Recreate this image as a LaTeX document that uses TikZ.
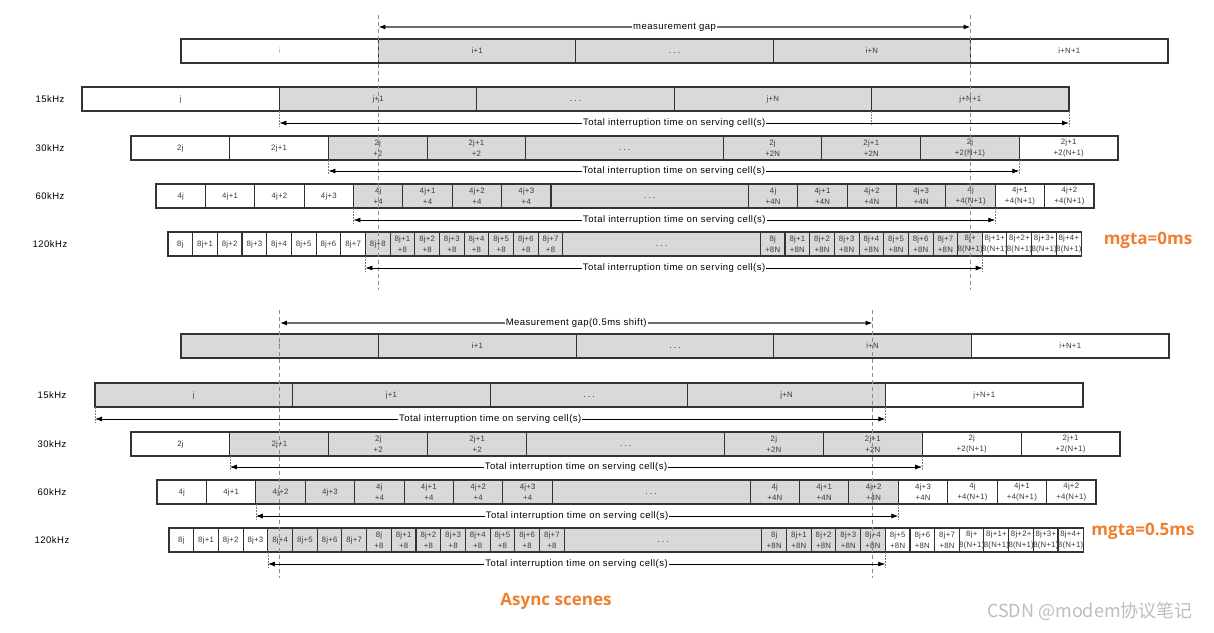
\documentclass[tikz,border=0pt]{standalone}
\usepackage{fontspec}
\setmainfont{Liberation Sans}
\usetikzlibrary{arrows.meta}
\newfontfamily\cellf[LetterSpace=3]{Liberation Sans}
\newfontfamily\lblf[LetterSpace=5]{Liberation Sans}
\newfontfamily\orf{Open Sans}
\newfontfamily\cjkf{Noto Sans CJK SC}
\definecolor{cg}{HTML}{D9D9D9}
\definecolor{bd}{HTML}{333333}
\definecolor{tx}{HTML}{3A3A3A}
\definecolor{dg}{HTML}{8C8C8C}
\definecolor{og}{HTML}{F07F30}
\definecolor{io}{HTML}{E8A050}
\definecolor{wm}{HTML}{BDBDBD}
\definecolor{gl}{HTML}{6E6E6E}
\newcommand\cellfont{\cellf\fontsize{7.8}{11}\selectfont}
\newcommand\lblfont{\lblf\fontsize{9.5}{11}\selectfont}
\newcommand\ofontsz{\orf\bfseries\fontsize{17}{20}\selectfont}
\newcommand\dd{\fontsize{9}{9}\selectfont .\hspace{2pt}.\hspace{2pt}.\vphantom{2j}}
\newcommand\cellrow[5]{%
  \xdef\curx{#3}%
  \foreach \w/\f/\t [count=\k] in {#5} {%
    \pgfmathsetmacro\cw{\w*#4}%
    \pgfmathsetmacro\cx{\curx+\cw/2}%
    \node[cell,fill=\f,minimum width=\cw pt] (#1-\k) at (\cx,#2+12) {\t};%
    \pgfmathsetmacro\nx{\curx+\cw}%
    \xdef\curx{\nx}%
  }%
}
\tikzset{
  cell/.style={draw=bd, line width=1.1pt, minimum height=24pt, inner sep=0pt, outer sep=0pt, align=center, text=tx, font=\cellfont},
  rlab/.style={font=\lblfont, text=black},
  guide/.style={draw=dg, line width=1pt, dash pattern=on 4pt off 3pt},
  tickl/.style={draw=gray, line width=0.5pt, dash pattern=on 2pt off 1pt},
  tia/.style={draw=black, line width=0.8pt, {Latex[length=7pt,width=5pt]}-{Latex[length=7pt,width=5pt]}},
  gapa/.style={draw=gl, line width=1.3pt, {Latex[length=7pt,width=5pt,color=black]}-{Latex[length=7pt,width=5pt,color=black]}},
  albl/.style={fill=white, inner sep=1pt, font=\lblfont, text=black},
  olab/.style={font=\ofontsz, text=og},
}
\begin{document}
\begin{tikzpicture}[x=1pt,y=-1pt]
\fill[white] (0,0) rectangle (1214,632);
\useasboundingbox (0,0) rectangle (1214,632);

% ---------------- top section ----------------
\cellrow{a0}{39}{181}{197.4}{1/white/{\textcolor{io}{i}},1/cg/i+1,1/cg/\dd,1/cg/i+N,1/white/i+N+1}
\cellrow{a1}{87}{82}{197.4}{1/white/j,1/cg/j+1,1/cg/\dd,1/cg/j+N,1/cg/j+N+1}
\cellrow{a2}{136}{131}{98.7}{1/white/2j,1/white/2j+1,1/cg/2j\\+2,1/cg/2j+1\\+2,2/cg/\dd,1/cg/2j\\+2N,1/cg/2j+1\\+2N,1/cg/2j\\+2(N+1),1/white/2j+1\\+2(N+1)}
\cellrow{a3}{184}{156}{49.37}{1/white/4j,1/white/4j+1,1/white/4j+2,1/white/4j+3,1/cg/4j\\+4,1/cg/4j+1\\+4,1/cg/4j+2\\+4,1/cg/4j+3\\+4,4/cg/\dd,1/cg/4j\\+4N,1/cg/4j+1\\+4N,1/cg/4j+2\\+4N,1/cg/4j+3\\+4N,1/cg/4j\\+4(N+1),1/white/4j+1\\+4(N+1),1/white/4j+2\\+4(N+1)}
\cellrow{a4}{232}{168}{24.68}{1/white/8j,1/white/8j+1,1/white/8j+2,1/white/8j+3,1/white/8j+4,1/white/8j+5,1/white/8j+6,1/white/8j+7,1/cg/8j+8,1/cg/8j+1\\+8,1/cg/8j+2\\+8,1/cg/8j+3\\+8,1/cg/8j+4\\+8,1/cg/8j+5\\+8,1/cg/8j+6\\+8,1/cg/8j+7\\+8,8/cg/\dd,1/cg/8j\\+8N,1/cg/8j+1\\+8N,1/cg/8j+2\\+8N,1/cg/8j+3\\+8N,1/cg/8j+4\\+8N,1/cg/8j+5\\+8N,1/cg/8j+6\\+8N,1/cg/8j+7\\+8N,1/cg/8j+\\8(N+1),1/white/8j+1+\\8(N+1),1/white/8j+2+\\8(N+1),1/white/8j+3+\\8(N+1),1/white/8j+4+\\8(N+1)}

\node[rlab] (la1) at (50,99) {15kHz};
\node[rlab] (la2) at (50,148) {30kHz};
\node[rlab] (la3) at (50,196) {60kHz};
\node[rlab] (la4) at (50,244) {120kHz};

\coordinate (ytA) at (0,15);
\coordinate (ybA) at (0,290);
\draw[guide] (a0-2.west |- ytA) -- (a0-2.west |- ybA);
\draw[guide] (a0-5.west |- ytA) -- (a0-5.west |- ybA);

\draw[tickl] (a1-2.south west) -- ([yshift=-16pt]a1-2.south west);
\draw[tickl] (a1-5.south east) -- ([yshift=-16pt]a1-5.south east);
\draw[tickl] (a1-5.south west) -- ([yshift=-14pt]a1-5.south west);
\draw[tickl] (a2-3.south west) -- ([yshift=-15pt]a2-3.south west);
\draw[tickl] (a2-8.south east) -- ([yshift=-15pt]a2-8.south east);
\draw[tickl] (a3-5.south west) -- ([yshift=-16pt]a3-5.south west);
\draw[tickl] (a3-14.south east) -- ([yshift=-16pt]a3-14.south east);
\draw[tickl] (a4-9.south west) -- ([yshift=-16pt]a4-9.south west);
\draw[tickl] (a4-26.south east) -- ([yshift=-16pt]a4-26.south east);

\draw[gapa] ([yshift=12pt]a0-2.north west) -- node[albl] (ga) {measurement gap} ([yshift=12pt]a0-5.north west);
\draw[tia] ([yshift=-12pt]a1-2.south west) -- node[albl] (ta1) {Total interruption time on serving cell(s)} ([yshift=-12pt]a1-5.south east);
\draw[tia] ([yshift=-11pt]a2-3.south west) -- node[albl] (ta2) {Total interruption time on serving cell(s)} ([yshift=-11pt]a2-8.south east);
\draw[tia] ([yshift=-12pt]a3-5.south west) -- node[albl] (ta3) {Total interruption time on serving cell(s)} ([yshift=-12pt]a3-14.south east);
\draw[tia] ([yshift=-12pt]a4-9.south west) -- node[albl] (ta4) {Total interruption time on serving cell(s)} ([yshift=-12pt]a4-26.south east);

\node[olab] (m0) at (1148,240) {mgta=0ms};

% ---------------- bottom section ----------------
\cellrow{b0}{334}{181}{197.6}{1/cg/i,1/cg/i+1,1/cg/\dd,1/cg/i+N,1/white/i+N+1}
\cellrow{b1}{383}{95}{197.6}{1/cg/j,1/cg/j+1,1/cg/\dd,1/cg/j+N,1/white/j+N+1}
\cellrow{b2}{432}{131}{98.9}{1/white/2j,1/cg/2j+1,1/cg/2j\\+2,1/cg/2j+1\\+2,2/cg/\dd,1/cg/2j\\+2N,1/cg/2j+1\\+2N,1/white/2j\\+2(N+1),1/white/2j+1\\+2(N+1)}
\cellrow{b3}{480}{157}{49.42}{1/white/4j,1/white/4j+1,1/cg/4j+2,1/cg/4j+3,1/cg/4j\\+4,1/cg/4j+1\\+4,1/cg/4j+2\\+4,1/cg/4j+3\\+4,4/cg/\dd,1/cg/4j\\+4N,1/cg/4j+1\\+4N,1/cg/4j+2\\+4N,1/white/4j+3\\+4N,1/white/4j\\+4(N+1),1/white/4j+1\\+4(N+1),1/white/4j+2\\+4(N+1)}
\cellrow{b4}{528}{169}{24.7}{1/white/8j,1/white/8j+1,1/white/8j+2,1/white/8j+3,1/cg/8j+4,1/cg/8j+5,1/cg/8j+6,1/cg/8j+7,1/cg/8j\\+8,1/cg/8j+1\\+8,1/cg/8j+2\\+8,1/cg/8j+3\\+8,1/cg/8j+4\\+8,1/cg/8j+5\\+8,1/cg/8j+6\\+8,1/cg/8j+7\\+8,8/cg/\dd,1/cg/8j\\+8N,1/cg/8j+1\\+8N,1/cg/8j+2\\+8N,1/cg/8j+3\\+8N,1/cg/8j+4\\+8N,1/white/8j+5\\+8N,1/white/8j+6\\+8N,1/white/8j+7\\+8N,1/white/8j+\\8(N+1),1/white/8j+1+\\8(N+1),1/white/8j+2+\\8(N+1),1/white/8j+3+\\8(N+1),1/white/8j+4+\\8(N+1)}

\node[rlab] (lb1) at (52,395) {15kHz};
\node[rlab] (lb2) at (52,444) {30kHz};
\node[rlab] (lb3) at (52,492) {60kHz};
\node[rlab] (lb4) at (52,540) {120kHz};

\coordinate (ytB) at (0,310);
\coordinate (ybB) at (0,578);
\draw[guide] (b0-1.center |- ytB) -- (b0-1.center |- ybB);
\draw[guide] (b0-4.center |- ytB) -- (b0-4.center |- ybB);

\draw[tickl] (b1-1.south west) -- ([yshift=-16pt]b1-1.south west);
\draw[tickl] (b1-4.south east) -- ([yshift=-16pt]b1-4.south east);
\draw[tickl] (b2-2.south west) -- ([yshift=-15pt]b2-2.south west);
\draw[tickl] (b2-7.south east) -- ([yshift=-15pt]b2-7.south east);
\draw[tickl] (b3-3.south west) -- ([yshift=-16pt]b3-3.south west);
\draw[tickl] (b3-12.south east) -- ([yshift=-16pt]b3-12.south east);
\draw[tickl] (b4-5.south west) -- ([yshift=-16pt]b4-5.south west);
\draw[tickl] (b4-22.south east) -- ([yshift=-16pt]b4-22.south east);

\draw[gapa] ([yshift=11pt]b0-1.north) -- node[albl] (gb) {Measurement gap(0.5ms shift)} ([yshift=11pt]b0-4.north);
\draw[tia] ([yshift=-12pt]b1-1.south west) -- node[albl] (tb1) {Total interruption time on serving cell(s)} ([yshift=-12pt]b1-4.south east);
\draw[tia] ([yshift=-11pt]b2-2.south west) -- node[albl] (tb2) {Total interruption time on serving cell(s)} ([yshift=-11pt]b2-7.south east);
\draw[tia] ([yshift=-12pt]b3-3.south west) -- node[albl] (tb3) {Total interruption time on serving cell(s)} ([yshift=-12pt]b3-12.south east);
\draw[tia] ([yshift=-12pt]b4-5.south west) -- node[albl] (tb4) {Total interruption time on serving cell(s)} ([yshift=-12pt]b4-22.south east);

\node[olab] (m1) at (1143,531) {mgta=0.5ms};
\node[olab] (as) at (556,601) {Async scenes};
\node[font=\cjkf\fontsize{18}{20}\selectfont, text=wm] (wmk) at (1090,611) {CSDN @modem协议笔记};
\end{tikzpicture}
\end{document}
